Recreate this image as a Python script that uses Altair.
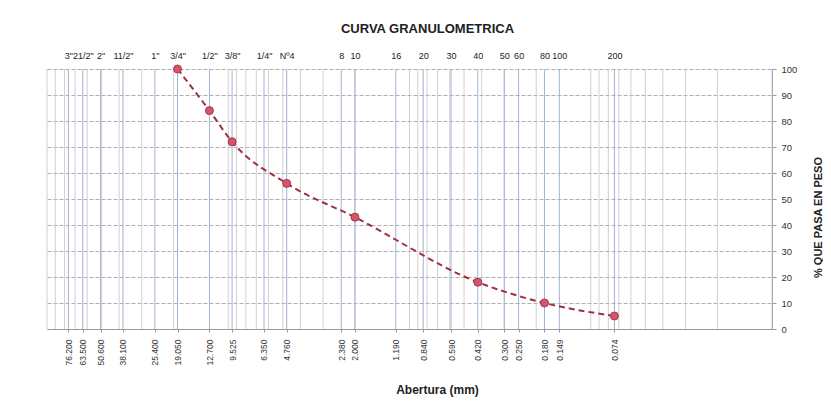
import json
import altair as alt
import pandas as pd

# Sieve openings (mm) and their names
sieve_mm = [76.2, 63.5, 50.6, 38.1, 25.4, 19.05, 12.7, 9.525, 6.35, 4.76,
            2.38, 2.0, 1.19, 0.84, 0.59, 0.42, 0.30, 0.25, 0.18, 0.149, 0.074]
sieve_names = ['3"', '21/2"', '2"', '11/2"', '1"', '3/4"', '1/2"', '3/8"', '1/4"', 'Nº4',
               '8', '10', '16', '20', '30', '40', '50', '60', '80', '100', '200']

# Grain-size curve (opening mm, % passing)
curve_mm = [19.05, 12.7, 9.525, 4.76, 2.0, 0.42, 0.18, 0.074]
curve_pass = [100, 84, 72, 56, 43, 18, 10, 5]

# Logarithmic grid positions
log_grid = [100, 90, 80, 70, 60, 50, 40, 30, 20, 10,
            9, 8, 7, 6, 5, 4, 3, 2, 1,
            0.9, 0.8, 0.7, 0.6, 0.5, 0.4, 0.3, 0.2, 0.1,
            0.09, 0.08, 0.07, 0.06, 0.05, 0.04, 0.03, 0.02, 0.01]

y_ticks = [0, 10, 20, 30, 40, 50, 60, 70, 80, 90, 100]

df_curve = pd.DataFrame({"mm": curve_mm, "pasa": curve_pass})
df_sieve = pd.DataFrame({"mm": sieve_mm})
df_grid = pd.DataFrame({"mm": log_grid})

FONT = "Liberation Sans"
xscale = alt.Scale(type="log", domain=[0.01, 100], reverse=True, nice=False)
yscale = alt.Scale(domain=[0, 100], nice=False)

top_label_expr = (json.dumps(sieve_names) + "[indexof(" + json.dumps(sieve_mm) +
                  ", datum.value)]")

top_axis = alt.Axis(orient="top", values=sieve_mm, labelExpr=top_label_expr,
                    grid=False, ticks=False, domain=False, labelOverlap=False,
                    labelBound=False, labelFontSize=9, labelFont=FONT,
                    labelColor="#222", labelPadding=9,
                    title="CURVA GRANULOMETRICA", titleFont=FONT, titleFontSize=13,
                    titleFontWeight="bold", titleColor="#222", titleX=380, titleY=-41,
                    titleAlign="center", titleBaseline="middle")

bottom_axis = alt.Axis(orient="bottom", values=sieve_mm,
                       labelExpr="format(datum.value, '.3f')",
                       labelAngle=270, labelFontSize=8.5, labelFont=FONT,
                       labelColor="#333", labelPadding=7, labelOverlap=False,
                       labelBound=False, grid=False, tickSize=3, tickColor="#999",
                       domainColor="#999",
                       title="Abertura (mm)", titleFont=FONT, titleFontSize=12,
                       titleFontWeight="bold", titleColor="#222", titleX=390, titleY=60,
                       titleAlign="center", titleBaseline="middle")

y_axis = alt.Axis(orient="right", values=y_ticks, grid=True, gridColor="#9a9a9a",
                  gridDash=[4, 2], gridWidth=0.8, domainColor="#999", tickColor="#999",
                  tickSize=4, labelFontSize=9.5, labelFont=FONT, labelColor="#333",
                  labelPadding=5,
                  title="% QUE PASA EN PESO", titleFont=FONT, titleFontSize=11,
                  titleFontWeight="bold", titleColor="#222", titleAngle=270,
                  titleX=46, titleY=148, titleAlign="center", titleBaseline="middle")

grid_minor = alt.Chart(df_grid).mark_rule(color="#c4c4c4", strokeWidth=0.8).encode(
    x=alt.X("mm:Q", scale=xscale, axis=top_axis)
)

grid_sieve = alt.Chart(df_sieve).mark_rule(color="#9fb4d2", strokeWidth=1).encode(
    x=alt.X("mm:Q", scale=xscale, axis=None)
)

line = alt.Chart(df_curve).mark_line(
    color="#9e2f48", strokeWidth=2, strokeDash=[6, 4], interpolate="monotone"
).encode(
    x=alt.X("mm:Q", scale=xscale, axis=None),
    y=alt.Y("pasa:Q", scale=yscale, axis=y_axis),
)

points = alt.Chart(df_curve).mark_point(
    filled=True, fill="#d4566e", stroke="#a8344c", strokeWidth=1, size=64, opacity=1
).encode(
    x=alt.X("mm:Q", scale=xscale, axis=bottom_axis),
    y=alt.Y("pasa:Q", scale=yscale, axis=y_axis),
)

chart = alt.layer(grid_minor, grid_sieve, line, points).resolve_axis(
    x="independent"
).properties(
    width=725, height=260,
    autosize=alt.AutoSizeParams(type="none"),
    padding={"left": 39, "top": 61, "right": 51, "bottom": 71},
    background="white",
).configure_view(strokeWidth=0)

chart.save("out.html", embed_options={"renderer": "svg", "actions": False})
